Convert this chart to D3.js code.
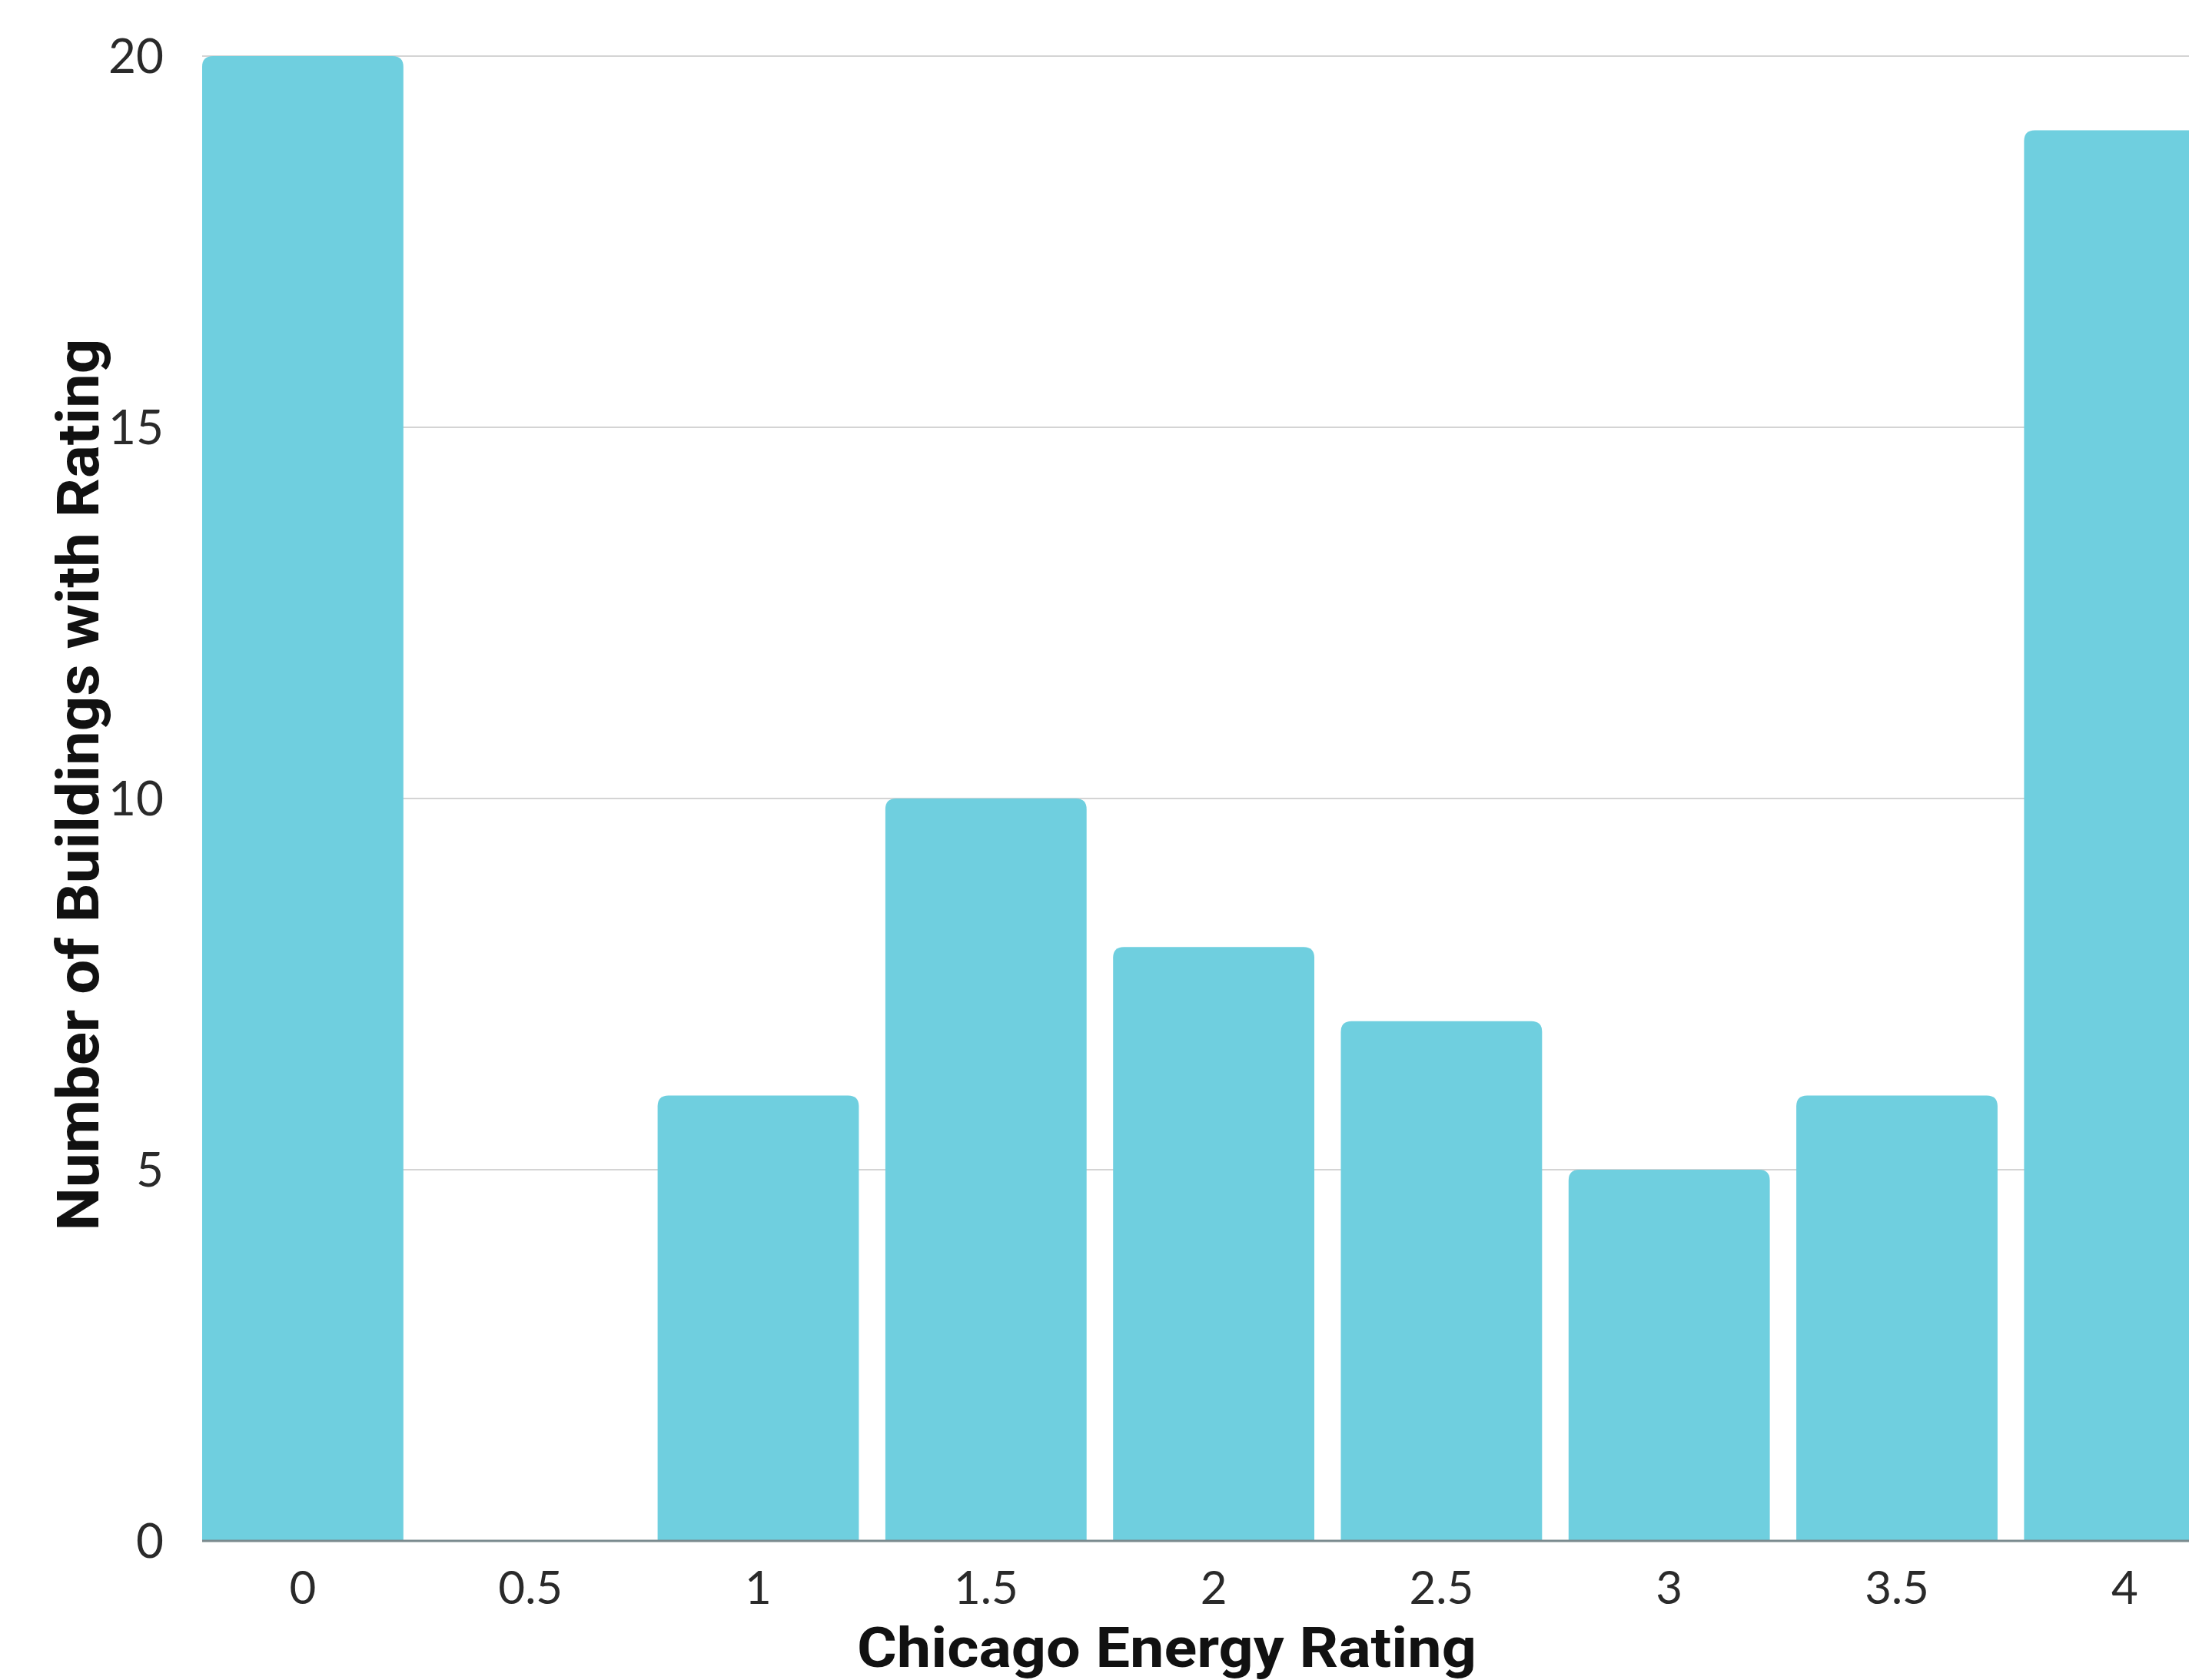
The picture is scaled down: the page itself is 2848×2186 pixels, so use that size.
<!DOCTYPE html>
<html>
<head>
<meta charset="utf-8">
<script src="https://cdn.jsdelivr.net/npm/d3@7"></script>
<style>
  html, body { margin: 0; padding: 0; background: #ffffff; }
  svg { display: block; }
</style>
</head>
<body>
<svg id="chart" width="2848" height="2186"></svg>
<script>
// ---- data ----
const categories = ["0", "0.5", "1", "1.5", "2", "2.5", "3", "3.5", "4"];
const buildingCounts = [20, 0, 6, 10, 8, 7, 5, 6, 19];
const yTickValues = [0, 5, 10, 15, 20];
const xTitle = "Chicago Energy Rating";
const yTitle = "Number of Buildings with Rating";

// ---- layout ----
const W = 2848, H = 2186;
const plotLeft = 263, plotBottom = 2005, plotTop = 73;
const step = 296.3, padInner = 0.1164;
const rangeRight = plotLeft + step * (categories.length - padInner);

const svg = d3.select("#chart");

const x = d3.scaleBand()
  .domain(categories)
  .range([plotLeft, rangeRight])
  .paddingInner(padInner)
  .paddingOuter(0);

const y = d3.scaleLinear()
  .domain([0, 20])
  .range([plotBottom, plotTop]);

// gridlines
svg.append("g")
  .selectAll("line")
  .data(yTickValues.filter(d => d > 0))
  .join("line")
  .attr("x1", plotLeft)
  .attr("x2", W)
  .attr("y1", d => y(d))
  .attr("y2", d => y(d))
  .attr("stroke", "#d4d4d4")
  .attr("stroke-width", 2);

// bars with rounded top corners
const r = 14;
function barPath(x0, w, yTop, yBot) {
  const h = yBot - yTop;
  if (h <= 0) return "";
  const rr = Math.min(r, h, w / 2);
  return `M${x0},${yBot}
          L${x0},${yTop + rr}
          Q${x0},${yTop} ${x0 + rr},${yTop}
          L${x0 + w - rr},${yTop}
          Q${x0 + w},${yTop} ${x0 + w},${yTop + rr}
          L${x0 + w},${yBot} Z`;
}

svg.append("g")
  .selectAll("path")
  .data(categories.map((c, i) => ({ c, v: buildingCounts[i] })))
  .join("path")
  .attr("d", d => barPath(x(d.c), x.bandwidth(), y(d.v), y(0)))
  .attr("fill", "#6fcfdf");

// baseline
svg.append("line")
  .attr("x1", plotLeft)
  .attr("x2", W)
  .attr("y1", y(0))
  .attr("y2", y(0))
  .attr("stroke", "#7a8a8e")
  .attr("stroke-width", 3);

// y axis (labels only)
const yAxis = d3.axisLeft(y)
  .tickValues(yTickValues)
  .tickSize(0)
  .tickPadding(0)
  .tickFormat(d3.format("d"));

const yg = svg.append("g")
  .attr("transform", `translate(213,0)`)
  .call(yAxis);
yg.select(".domain").remove();
yg.selectAll("text")
  .attr("font-family", "Lato, 'Open Sans', sans-serif")
  .attr("font-size", 62)
  .attr("fill", "#2a2a2a")
  .attr("dy", "0.35em");

// x axis (labels only)
const xAxis = d3.axisBottom(x)
  .tickSize(0)
  .tickPadding(0);

const xg = svg.append("g")
  .attr("transform", `translate(0,2066)`)
  .call(xAxis);
xg.select(".domain").remove();
xg.selectAll("text")
  .attr("font-family", "Lato, 'Open Sans', sans-serif")
  .attr("font-size", 60)
  .attr("fill", "#2a2a2a")
  .attr("dy", "0.35em")
  .attr("y", 0);

// axis titles
svg.append("text")
  .attr("x", 1518)
  .attr("y", 2169)
  .attr("text-anchor", "middle")
  .attr("font-family", "Roboto, 'Open Sans', sans-serif")
  .attr("font-weight", 700)
  .attr("font-size", 72)
  .attr("fill", "#111")
  .attr("textLength", 806)
  .attr("lengthAdjust", "spacingAndGlyphs")
  .text(xTitle);

svg.append("text")
  .attr("transform", `translate(128,1021) rotate(-90)`)
  .attr("text-anchor", "middle")
  .attr("font-family", "Roboto, 'Open Sans', sans-serif")
  .attr("font-weight", 700)
  .attr("font-size", 76)
  .attr("fill", "#111")
  .attr("textLength", 1161)
  .attr("lengthAdjust", "spacingAndGlyphs")
  .text(yTitle);
</script>
</body>
</html>
